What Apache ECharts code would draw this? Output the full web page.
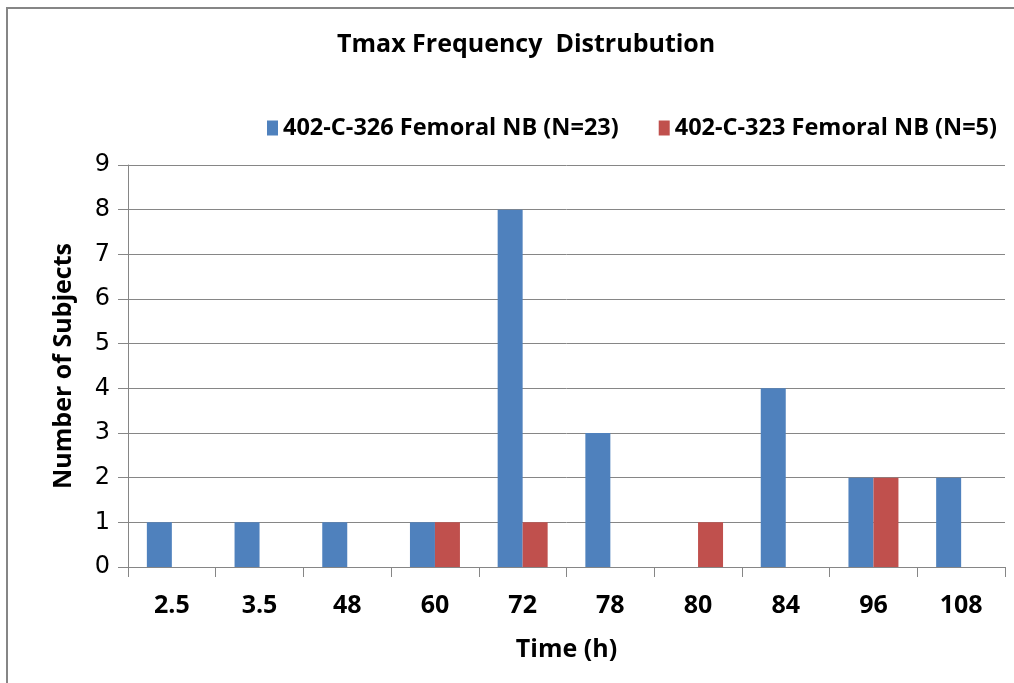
<!DOCTYPE html>
<html><head><meta charset="utf-8">
<script src="https://cdn.jsdelivr.net/npm/echarts@6/dist/echarts.min.js"></script>
<style>html,body{margin:0;padding:0;background:#fff}#c{width:1014px;height:683px}</style>
</head><body><div id="c"></div>
<script>
const categories = ['2.5','3.5','48','60','72','78','80','84','96','108'];
const series326 = [1,1,1,1,8,3,0,4,2,2];
const series323 = [0,0,0,1,1,0,1,0,2,0];
const yTicks = [0,1,2,3,4,5,6,7,8,9];

const chart = echarts.init(document.getElementById('c'));
const font = '"Open Sans", sans-serif';
chart.setOption({
  animation: false,
  backgroundColor: '#fff',
  graphic: [{type:'rect', shape:{x:7,y:8,width:1100,height:1000}, style:{fill:'none', stroke:'#868686', lineWidth:2}, silent:true}],
  title: {text:'Tmax Frequency  Distrubution', left:332, top:27, textStyle:{fontFamily:font, fontWeight:'bold', fontSize:25, color:'#000'}},
  legend: {left:262, top:111, itemWidth:11, itemHeight:15, itemGap:40, icon:'rect',
    textStyle:{fontFamily:font, fontWeight:'bold', fontSize:23.5, color:'#000'}},
  grid: {left:128, right:9, top:165, bottom:116, containLabel:false},
  xAxis: {type:'category', data:categories, name:'Time (h)', nameLocation:'middle', nameGap:70,
    nameTextStyle:{fontFamily:font, fontWeight:'bold', fontSize:25, color:'#000'},
    axisLine:{lineStyle:{color:'#868686', width:1}},
    axisTick:{show:true, length:10, lineStyle:{color:'#868686'}, alignWithLabel:false},
    axisLabel:{fontFamily:font, fontWeight:'bold', fontSize:25, color:'#000', margin:26}},
  yAxis: {type:'value', min:0, max:9, interval:1, name:'Number of Subjects', nameLocation:'middle', nameGap:52,
    nameTextStyle:{fontFamily:font, fontWeight:'bold', fontSize:25, color:'#000'},
    axisLine:{show:true, lineStyle:{color:'#868686'}},
    axisTick:{show:true, length:10, lineStyle:{color:'#868686'}},
    splitLine:{lineStyle:{color:'#868686'}},
    axisLabel:{fontFamily:'"DejaVu Sans", sans-serif', fontSize:24, color:'#000', margin:18,
      formatter: v => yTicks.includes(v) ? String(v) : ''}},
  series: [
    {name:'402-C-326 Femoral NB (N=23)', type:'bar', data:series326, itemStyle:{color:'#4F81BD'}, barGap:'0%', barCategoryGap:'43%'},
    {name:'402-C-323 Femoral NB (N=5)', type:'bar', data:series323, itemStyle:{color:'#C0504D'}}
  ]
});
</script></body></html>
